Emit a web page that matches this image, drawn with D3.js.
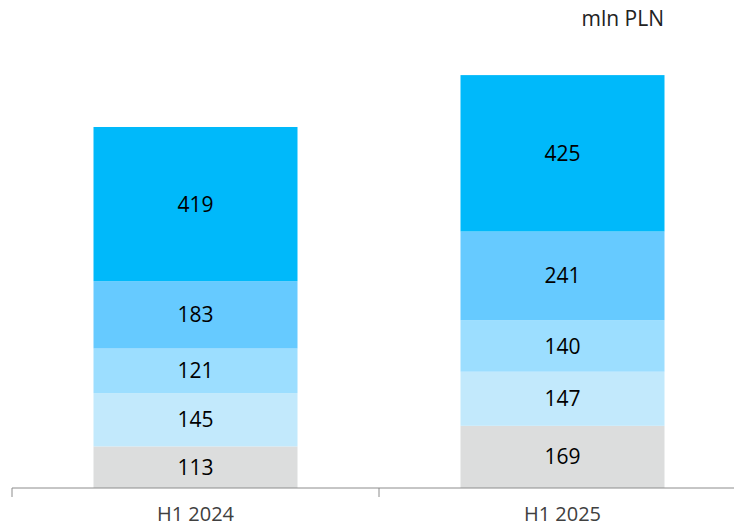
<!DOCTYPE html>
<html>
<head>
<meta charset="utf-8">
<script src="https://cdn.jsdelivr.net/npm/d3@7"></script>
<style>
  body { margin: 0; background: #fff; }
  svg { display: block; }
</style>
</head>
<body>
<div id="chart"></div>
<script>
/* DATA */
const periods = ["H1 2024", "H1 2025"];
const segmentKeys = ["s1", "s2", "s3", "s4", "s5"];
const s1 = [113, 169];
const s2 = [145, 147];
const s3 = [121, 140];
const s4 = [183, 241];
const s5 = [419, 425];
const colors = ["#dcdddd", "#c2e9fc", "#9cdeff", "#66caff", "#00b9fa"];
const unitLabel = "mln PLN";

/* CONSTANTS */
const width = 734, height = 528;
const axisY = 488;

const rows = periods.map((p, i) => ({
  period: p, s1: s1[i], s2: s2[i], s3: s3[i], s4: s4[i], s5: s5[i]
}));

const svg = d3.select("#chart").append("svg")
  .attr("width", width)
  .attr("height", height);

const x = d3.scaleBand()
  .domain(periods)
  .range([12, 746])
  .paddingInner(0)
  .paddingOuter(0);

const y = d3.scaleLinear()
  .domain([0, 1000])
  .range([axisY, axisY - 368]);

const stack = d3.stack().keys(segmentKeys);
const series = stack(rows);

const barW = 204;

const groups = svg.selectAll("g.seg")
  .data(series)
  .join("g")
  .attr("class", "seg")
  .attr("fill", (d, i) => colors[i]);

groups.selectAll("rect")
  .data(d => d.map(v => ({ v, key: d.key })))
  .join("rect")
  .attr("x", d => x(d.v.data.period) + x.bandwidth() / 2 - barW / 2)
  .attr("width", barW)
  .attr("y", d => y(d.v[1]))
  .attr("height", d => y(d.v[0]) - y(d.v[1]));

groups.selectAll("text")
  .data(d => d.map(v => ({ v, key: d.key })))
  .join("text")
  .attr("x", d => x(d.v.data.period) + x.bandwidth() / 2)
  .attr("y", d => (y(d.v[0]) + y(d.v[1])) / 2)
  .attr("dy", "0.36em")
  .attr("text-anchor", "middle")
  .attr("fill", "#000")
  .style("font-family", "'Open Sans', sans-serif")
  .style("font-size", "21px")
  .text(d => d.v[1] - d.v[0]);

// x axis
const axis = svg.append("g")
  .attr("transform", `translate(0,${axisY})`);
axis.append("line")
  .attr("x1", 12).attr("x2", 746)
  .attr("stroke", "#8c8c8c").attr("stroke-width", 1);
axis.selectAll("line.tick")
  .data([12, ...periods.map(p => x(p) + x.bandwidth())])
  .join("line")
  .attr("class", "tick")
  .attr("x1", d => d).attr("x2", d => d)
  .attr("y1", 0).attr("y2", 9)
  .attr("stroke", "#8c8c8c");
axis.selectAll("text")
  .data(periods)
  .join("text")
  .attr("x", d => x(d) + x.bandwidth() / 2)
  .attr("y", 33)
  .attr("text-anchor", "middle")
  .attr("fill", "#404040")
  .style("font-family", "'Open Sans', sans-serif")
  .style("font-size", "20px")
  .text(d => d);

svg.append("text")
  .attr("x", 664)
  .attr("y", 26)
  .attr("text-anchor", "end")
  .attr("fill", "#222")
  .style("font-family", "'Open Sans', sans-serif")
  .style("font-size", "21px")
  .text(unitLabel);
</script>
</body>
</html>
